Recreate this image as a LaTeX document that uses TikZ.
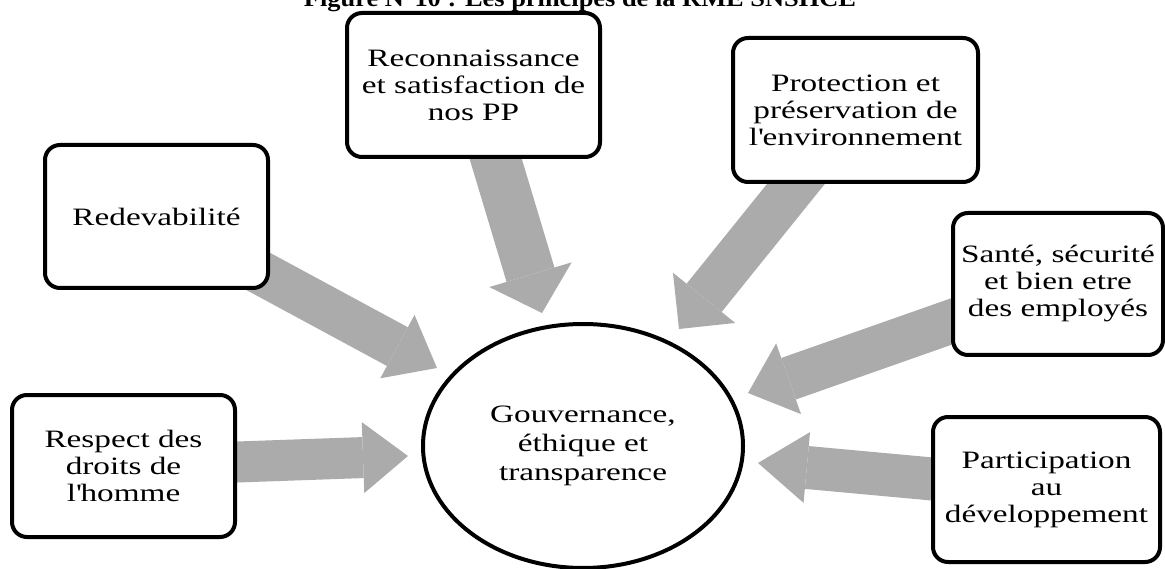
\documentclass[tikz,border=0pt]{standalone}
\usepackage{fontspec}
\setmainfont{Liberation Serif}[FakeStretch=1.33]
\newfontfamily\titlefont{Liberation Serif}[FakeStretch=1.1]
\usetikzlibrary{arrows.meta,shapes.geometric,backgrounds}
\definecolor{arrowgray}{RGB}{171,171,171}
\tikzset{
  box/.style={draw=black, line width=4pt, rounded corners=15pt, fill=white,
    align=center, inner sep=0pt, font=\fontsize{25}{27}\selectfont},
  hub/.style={ellipse, draw=black, line width=4pt, fill=white, align=center,
    inner sep=0pt, font=\fontsize{25}{29}\selectfont},
  bigarrow/.style n args={3}{draw=arrowgray, line width=#1,
    -{Triangle[width=#2,length=#3,line width=0pt]}},
}
\begin{document}
\begin{tikzpicture}[x=1pt,y=-1pt]
\useasboundingbox (0,0) rectangle (1165,569);
% title (cut off at the top)
\node[anchor=base, font=\titlefont\fontsize{24}{26}\bfseries\selectfont, inner sep=0pt] (title) at (580,6.5)
  {Figure N°10 : Les principes de la RME SNSHCE};
% boxes
\node[box, minimum width=253pt, minimum height=144pt] (reco) at (473.5,85)
  {Reconnaissance\\et satisfaction de\\nos PP};
\node[box, minimum width=245pt, minimum height=144pt] (prot) at (855.5,110)
  {Protection et\\préservation de\\l\textquotesingle environnement};
\node[box, minimum width=223pt, minimum height=143pt] (redev) at (156.5,216.5)
  {Redevabilité};
\node[box, minimum width=210pt, minimum height=142pt] (sante) at (1058,284)
  {Santé, sécurité\\et bien etre\\des employés};
\node[box, minimum width=227pt, minimum height=145pt] (partic) at (1046.5,489.5)
  {Participation\\au\\développement};
\node[box, minimum width=223pt, minimum height=142pt] (resp) at (123.5,466)
  {Respect des\\droits de\\l\textquotesingle homme};
\node[hub, minimum width=320pt, minimum height=244pt] (hubnode) at (583,446)
  {Gouvernance,\\éthique et\\transparence};
% arrow tips
\coordinate (tResp) at (408,456);
\coordinate (tRedev) at (437,368);
\coordinate (tReco) at (542,313);
\coordinate (tProt) at (679,329);
\coordinate (tSante) at (748,393);
\coordinate (tPartic) at (758,463);
\begin{scope}[on background layer]
  \draw[bigarrow={41pt}{71pt}{45pt}] (resp.center) -- (tResp);
  \draw[bigarrow={44pt}{72pt}{45pt}] (redev.center) -- (tRedev);
  \draw[bigarrow={50pt}{86pt}{40pt}] (reco.center) -- (tReco);
  \draw[bigarrow={45pt}{80pt}{40pt}] (prot.center) -- (tProt);
  \draw[bigarrow={44pt}{75pt}{43pt}] (sante.center) -- (tSante);
  \draw[bigarrow={43pt}{71pt}{49pt}] (partic.center) -- (tPartic);
\end{scope}
\end{tikzpicture}
\end{document}
